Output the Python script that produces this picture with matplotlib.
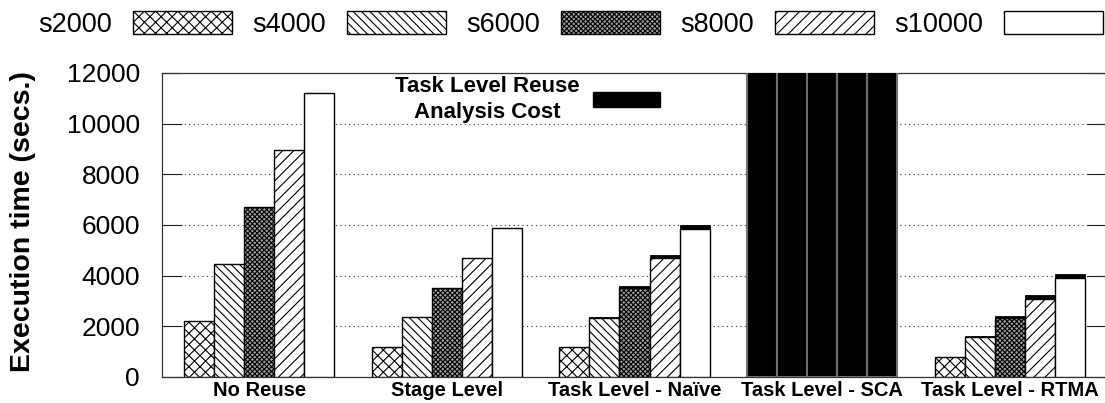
import numpy as np
import matplotlib
matplotlib.use("Agg")
import matplotlib.pyplot as plt
from matplotlib.patches import Patch

plt.rcParams['font.family'] = ['Liberation Sans', 'DejaVu Sans']
plt.rcParams['hatch.linewidth'] = 0.8

# 数据
groups = ['No Reuse', 'Stage Level', 'Task Level - Naïve', 'Task Level - SCA', 'Task Level - RTMA']
sizes = ['s2000', 's4000', 's6000', 's8000', 's10000']

no_reuse = [2230, 4460, 6700, 8960, 11220]
stage_level = [1190, 2360, 3520, 4690, 5870]
naive_base = [1180, 2340, 3520, 4680, 5840]
naive_cost = [20, 40, 70, 120, 170]
# SCA 超出坐标范围，只能读出下限
sca_cost = [12500, 12500, 12500, 12500, 12500]
rtma_base = [790, 1570, 2330, 3090, 3890]
rtma_cost = [15, 30, 70, 130, 170]

yticks = [0, 2000, 4000, 6000, 8000, 10000, 12000]

# 每个规模的填充样式
styles = [
    dict(facecolor='white', hatch='xxx'),
    dict(facecolor='white', hatch='\\\\\\\\'),
    dict(facecolor='#a0a0a0', hatch='xxxxxxx'),
    dict(facecolor='white', hatch='///'),
    dict(facecolor='white', hatch=''),
]

base = np.array([no_reuse, stage_level, naive_base, [0] * 5, rtma_base], dtype=float)
cost = np.array([[0] * 5, [0] * 5, naive_cost, sca_cost, rtma_cost], dtype=float)

fig = plt.figure(figsize=(11.05, 4.03), dpi=100)
ax = fig.add_axes([162 / 1105, 1 - 377 / 403, 945 / 1105, 304 / 403])

x = np.arange(len(groups))
width = 0.16
for j in range(len(sizes)):
    pos = x + (j - 2) * width
    ax.bar(pos, base[:, j], width, edgecolor='black', linewidth=1.0,
           label=sizes[j], zorder=3, **styles[j])
    # 复用分析开销（黑色）叠在上面
    ax.bar(pos, cost[:, j], width, bottom=base[:, j], color='black',
           edgecolor='black', linewidth=0.6, zorder=3)

# SCA 的柱子边框是灰色
for patch in ax.patches:
    if patch.get_height() >= 12000:
        patch.set_edgecolor('#707070')
        patch.set_linewidth(1.5)

ax.set_xlim(-0.518, 4.518)
ax.set_ylim(0, 12000)
ax.set_yticks(yticks)
ax.set_xticks(x)
ax.set_xticklabels(groups, fontsize=14.5, fontweight='bold')
ax.tick_params(axis='x', length=0, pad=3)
ax.tick_params(axis='y', direction='in', length=14.4, width=0.8, pad=15.8,
               labelsize=19, right=True, color='#222222')
ax.yaxis.grid(True, linestyle=(0, (1, 3)), linewidth=0.8, color='#333333', zorder=0)
for s in ax.spines.values():
    s.set_color('#333333')
    s.set_linewidth(0.9)

fig.text(23 / 1105, 1 - 222 / 403, 'Execution time (secs.)', rotation=90,
         ha='center', va='center', fontsize=20.5, fontweight='bold')

# 顶部图例：文字在前，样本在后
handles, labels = ax.get_legend_handles_labels()
leg1 = fig.legend(handles, labels, loc='upper left', bbox_to_anchor=(38 / 1105, 1 - 11 / 403),
                  ncol=5, frameon=False, markerfirst=False, fontsize=19.5,
                  handlelength=3.65, handleheight=0.95, handletextpad=0.79,
                  columnspacing=0.74, borderpad=0, borderaxespad=0)

leg2 = ax.legend([Patch(facecolor='black', edgecolor='black')],
                 ['Task Level Reuse\nAnalysis Cost'],
                 loc='upper left', bbox_to_anchor=(395 / 1105, 1 - 76 / 403),
                 bbox_transform=fig.transFigure, frameon=False, markerfirst=False,
                 prop={'size': 16, 'weight': 'bold'}, handlelength=3.0,
                 handleheight=0.68, handletextpad=0.6, borderpad=0, borderaxespad=0,
                 labelspacing=0)
for t in leg2.get_texts():
    t.set_multialignment('center')
    t.set_linespacing(1.3)

plt.savefig('out.png', dpi=100)
